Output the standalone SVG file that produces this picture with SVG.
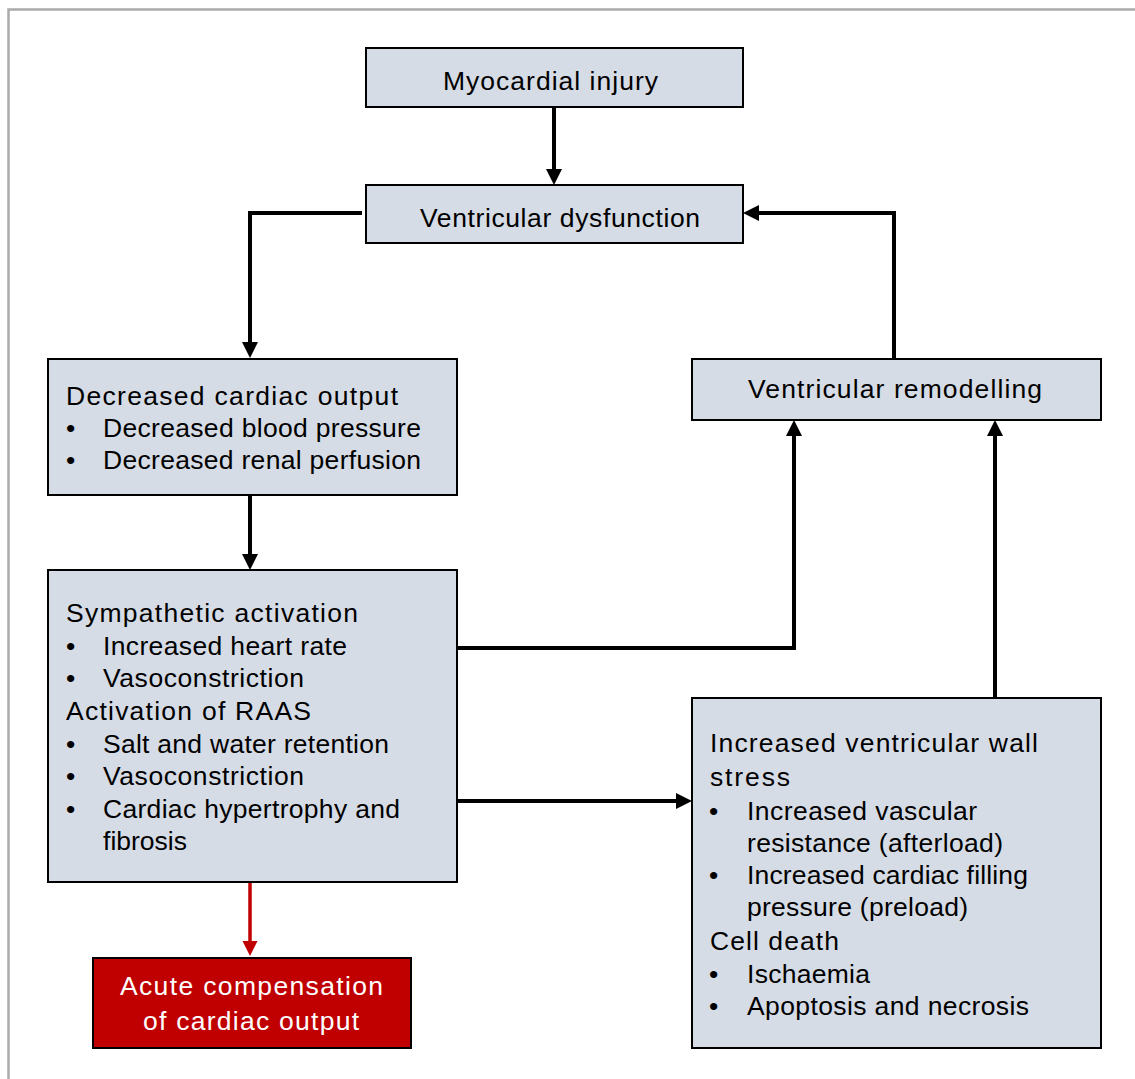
<svg xmlns="http://www.w3.org/2000/svg" width="1135" height="1079" viewBox="0 0 1135 1079">
<style>
.box{fill:#d6dce5;stroke:#000;stroke-width:2}
.red{fill:#c00000;stroke:#000;stroke-width:2}
text{font-family:"Liberation Sans",Arial,sans-serif;font-size:26.5px;fill:#000}
.w{fill:#fff}
.c{fill:none;stroke:#000;stroke-width:4}
.cr{fill:none;stroke:#c00000;stroke-width:3.5}
</style>
<defs>
<marker id="ah" markerUnits="userSpaceOnUse" markerWidth="16" markerHeight="16" refX="6" refY="8" orient="auto"><path d="M0,0 L16,8 L0,16 z" fill="#000"/></marker>
<marker id="ahr" markerUnits="userSpaceOnUse" markerWidth="16" markerHeight="16" refX="6" refY="8" orient="auto"><path d="M0,0.5 L15,8 L0,15.5 z" fill="#c00000"/></marker>
</defs>
<rect x="8.5" y="9.5" width="1140" height="1090" fill="none" stroke="#ababab" stroke-width="2.5"/>
<g id="connectors">
<path class="c" d="M554,107 V175" marker-end="url(#ah)"/>
<path class="c" d="M362,213 H250 V348" marker-end="url(#ah)"/>
<path class="c" d="M250,495 V560" marker-end="url(#ah)"/>
<path class="c" d="M458,648 H794 V430" marker-end="url(#ah)"/>
<path class="c" d="M458,801 H682" marker-end="url(#ah)"/>
<path class="c" d="M995,698 V430" marker-end="url(#ah)"/>
<path class="c" d="M894,358 V213 H753" marker-end="url(#ah)"/>
<path class="cr" d="M250,883 V947" marker-end="url(#ahr)"/>
</g>
<g id="myocardial-injury">
<rect class="box" x="366" y="48" width="377" height="59"/>
<text x="443" y="90" textLength="215" lengthAdjust="spacing">Myocardial injury</text>
</g>
<g id="ventricular-dysfunction">
<rect class="box" x="366" y="185" width="377" height="58"/>
<text x="420" y="227" textLength="280" lengthAdjust="spacing">Ventricular dysfunction</text>
</g>
<g id="decreased-cardiac-output">
<rect class="box" x="48" y="359" width="409" height="136"/>
<text x="66" y="405" textLength="332" lengthAdjust="spacing">Decreased cardiac output</text>
<text x="66" y="437">•</text>
<text x="103" y="437" textLength="318" lengthAdjust="spacing">Decreased blood pressure</text>
<text x="66" y="469">•</text>
<text x="103" y="469" textLength="318" lengthAdjust="spacing">Decreased renal perfusion</text>
</g>
<g id="sympathetic-activation">
<rect class="box" x="48" y="570" width="409" height="312"/>
<text x="66" y="622" textLength="292" lengthAdjust="spacing">Sympathetic activation</text>
<text x="66" y="655">•</text>
<text x="103" y="655" textLength="244" lengthAdjust="spacing">Increased heart rate</text>
<text x="66" y="687">•</text>
<text x="103" y="687" textLength="201" lengthAdjust="spacing">Vasoconstriction</text>
<text x="66" y="720" textLength="245" lengthAdjust="spacing">Activation of RAAS</text>
<text x="66" y="753">•</text>
<text x="103" y="753" textLength="286" lengthAdjust="spacing">Salt and water retention</text>
<text x="66" y="785">•</text>
<text x="103" y="785" textLength="201" lengthAdjust="spacing">Vasoconstriction</text>
<text x="66" y="818">•</text>
<text x="103" y="818" textLength="297" lengthAdjust="spacing">Cardiac hypertrophy and</text>
<text x="103" y="850" textLength="84" lengthAdjust="spacing">fibrosis</text>
</g>
<g id="ventricular-remodelling">
<rect class="box" x="692" y="359" width="409" height="61"/>
<text x="748" y="398" textLength="294" lengthAdjust="spacing">Ventricular remodelling</text>
</g>
<g id="increased-wall-stress">
<rect class="box" x="692" y="698" width="409" height="350"/>
<text x="710" y="752" textLength="328" lengthAdjust="spacing">Increased ventricular wall</text>
<text x="710" y="786" textLength="80" lengthAdjust="spacing">stress</text>
<text x="709" y="820">•</text>
<text x="747" y="820" textLength="230" lengthAdjust="spacing">Increased vascular</text>
<text x="747" y="852" textLength="256" lengthAdjust="spacing">resistance (afterload)</text>
<text x="709" y="884">•</text>
<text x="747" y="884" textLength="281" lengthAdjust="spacing">Increased cardiac filling</text>
<text x="747" y="916" textLength="221" lengthAdjust="spacing">pressure (preload)</text>
<text x="710" y="950" textLength="129" lengthAdjust="spacing">Cell death</text>
<text x="709" y="983">•</text>
<text x="747" y="983" textLength="123" lengthAdjust="spacing">Ischaemia</text>
<text x="709" y="1015">•</text>
<text x="747" y="1015" textLength="282" lengthAdjust="spacing">Apoptosis and necrosis</text>
</g>
<g id="acute-compensation">
<rect class="red" x="93" y="958" width="318" height="90"/>
<text class="w" x="120" y="995" textLength="263" lengthAdjust="spacing">Acute compensation</text>
<text class="w" x="143" y="1030" textLength="216" lengthAdjust="spacing">of cardiac output</text>
</g>
</svg>
